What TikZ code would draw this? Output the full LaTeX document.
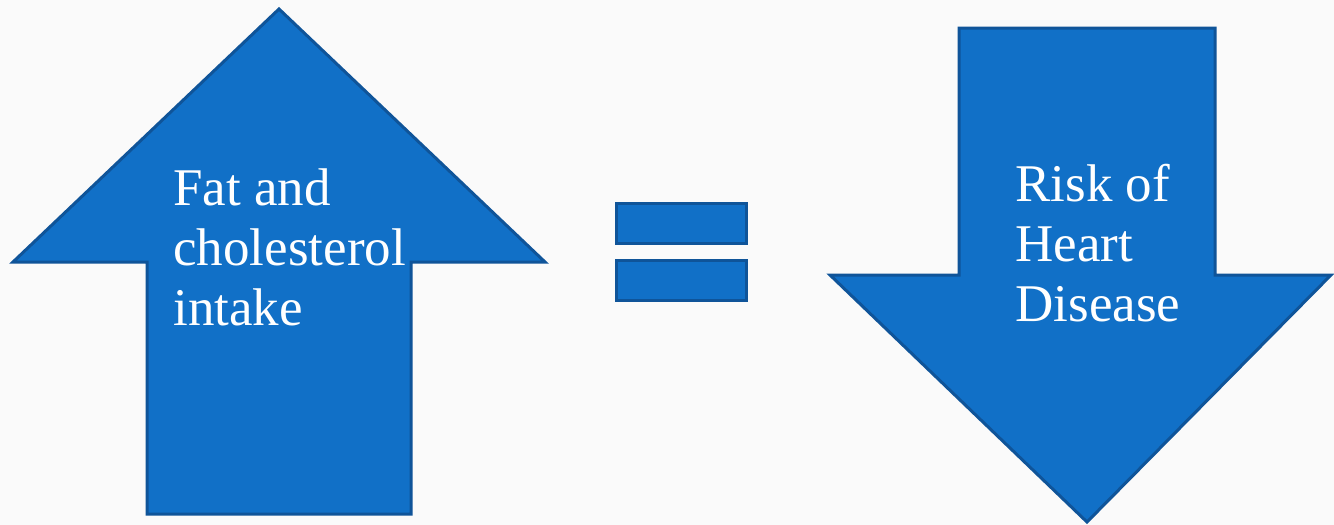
\documentclass[tikz,border=0pt]{standalone}
\usepackage{fontspec}
\setmainfont{Liberation Serif}
\definecolor{arrowfill}{HTML}{1170C7}
\definecolor{arrowline}{HTML}{0F5499}
\definecolor{slidebg}{HTML}{FAFAFA}
\tikzset{
  bigarrow/.style={fill=arrowfill,draw=arrowline,line width=1.5pt,line join=miter},
  arrowtext/.style={text=white,align=left,inner sep=0pt,anchor=base west,
    font=\fontsize{26.5}{30}\selectfont}
}

\begin{document}
\begin{tikzpicture}[x=0.5pt,y=-0.5pt]
  \fill[slidebg](0,0)rectangle(1334,525);
  \useasboundingbox(0,0)rectangle(1334,525);
  % up arrow
  \coordinate(U)at(279,9);
  \coordinate(UL)at(13,262);
  \coordinate(UR)at(545,262);
  \draw[bigarrow](U)--(UR)--(411,262)--(411,514)--(147,514)--(147,262)--(UL)--cycle;
  \node[arrowtext](intake)at(173,325){Fat and\\cholesterol\\intake};
  % equals sign
  \draw[bigarrow](616,203)rectangle(746,243);
  \draw[bigarrow](616,260)rectangle(746,300);
  % down arrow
  \coordinate(D)at(1087,522);
  \coordinate(DL)at(830,275);
  \coordinate(DR)at(1331,275);
  \draw[bigarrow](959,28)--(1215,28)--(1215,275)--(DR)--(D)--(DL)--(959,275)--cycle;
  \node[arrowtext](risk)at(1015,321){Risk of\\Heart\\Disease};
\end{tikzpicture}
\end{document}
